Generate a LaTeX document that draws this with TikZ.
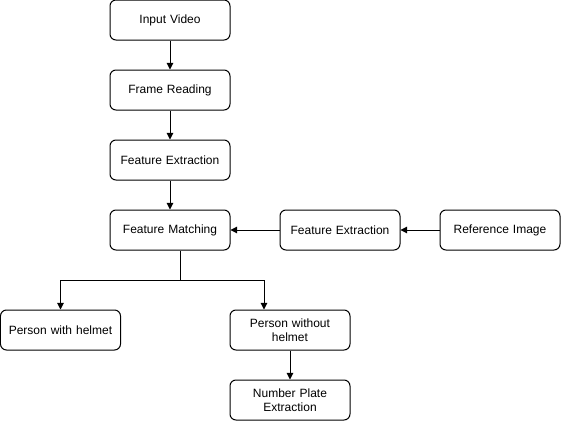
\documentclass[tikz,border=0pt]{standalone}
\usepackage{fontspec}
\setmainfont{Liberation Sans}
\usetikzlibrary{positioning,arrows.meta}

\begin{document}
\begin{tikzpicture}[x=0.75pt,y=-0.75pt]
\tikzset{stepbox/.style={draw,rounded corners=4.5pt,minimum width=90pt,minimum height=30pt,
    font=\fontsize{9}{10.5}\selectfont,align=center,line width=0.75pt,inner sep=2pt,text width=80pt},
  flow/.style={line width=0.75pt,-{Triangle[length=5pt,width=5pt]}}}
\useasboundingbox (0,0) rectangle (562,421);
\node[stepbox] (video) at (170,20) {Input Video};
\node[stepbox] (frame) at (170,90) {Frame Reading};
\node[stepbox] (featA) at (170,160) {Feature Extraction};
\node[stepbox] (match) at (170,230) {Feature Matching};
\node[stepbox] (featB) at (340,230) {Feature Extraction};
\node[stepbox] (refimg) at (500,230) {Reference Image};
\node[stepbox] (with) at (60.5,330) {Person with helmet};
\node[stepbox] (without) at (290,330) {Person without\\helmet};
\node[stepbox] (plate) at (290,400) {Number Plate\\Extraction};
\coordinate (split) at (180,280);
% main line
\draw[flow] (video) -- (frame);
\draw[flow] (frame) -- (featA);
\draw[flow] (featA) -- (match);
\draw[flow] (refimg) -- (featB);
\draw[flow] (featB) -- (match);
% split into the two classes
\draw[line width=0.75pt] ([xshift=7.5pt]match.south) -- (split);
\draw[flow] (split) -| (with.north);
\draw[flow] (split) -| ([xshift=-19.5pt]without.north);
\draw[flow] (without) -- (plate);
\end{tikzpicture}
\end{document}
